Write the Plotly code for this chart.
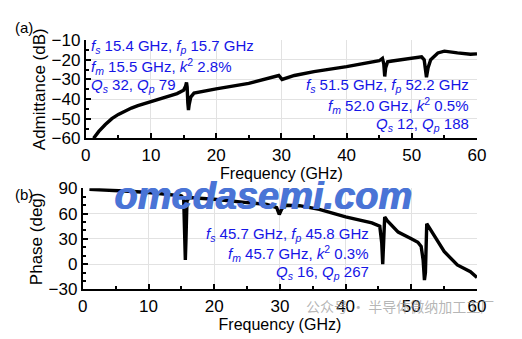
import plotly.graph_objects as go

# ---- data ----
adm_freq = [1.2, 1.5, 2, 3, 4, 5, 6, 7, 8, 10, 12, 14, 15, 15.3, 15.45, 15.55, 15.65, 15.75, 15.85,
            16.1, 16.6, 18, 20, 25, 29, 29.6, 30.1, 30.5, 32, 35, 40, 45, 45.5, 45.7, 45.85, 46.0,
            46.3, 47, 50, 51.5, 51.9, 52.1, 52.25, 52.5, 52.9, 54, 55, 57, 59, 60]
adm_db = [-60, -58.5, -56.5, -53, -50, -47.8, -46, -44.6, -43.4, -41.3, -39.5, -37.2, -35.5, -33.5,
          -31.5, -34, -42, -45.6, -43, -39, -37, -36, -34.8, -32, -28.8, -28, -30, -29.5, -28, -26,
          -23.5, -20.5, -19.3, -22, -28.5, -24, -21, -20.6, -19.3, -18.5, -20, -27, -28.9, -24, -20,
          -16.5, -15.6, -16.5, -17.2, -17]

ph_freq = [1, 3, 7, 10, 13, 15, 15.35, 15.5, 15.6, 15.7, 15.85, 16.2, 20, 25, 28, 29.5, 29.9, 30.3,
           31, 33, 36, 40, 42, 44, 45.2, 45.5, 45.65, 45.8, 45.95, 46.3, 48, 50, 51, 51.5, 51.8,
           52.0, 52.15, 52.35, 53, 55, 57, 59, 60]
ph_deg = [89, 88.5, 86.5, 85, 83, 81, 78, 30, 5, 30, 75, 79, 77, 73, 71, 67, 59, 66, 70, 69.4, 65,
          56, 53, 49, 45, 25, 0, 30, 56, 52, 38, 30, 26, 21, 5, -19, -10, 48, 40, 15, -1, -9, -16]

x_ticks = [0, 10, 20, 30, 40, 50, 60]
adm_ticks = [-10, -20, -30, -40, -50, -60]
ph_ticks = [90, 60, 30, 0, -30]

FONT = "Arial, Liberation Sans, sans-serif"
BLUE = "#1515e6"
W, H = 522, 339

fig = go.Figure()
fig.add_trace(go.Scatter(x=adm_freq, y=adm_db, mode="lines", line=dict(color="black", width=3.4),
                         xaxis="x", yaxis="y", showlegend=False))
fig.add_trace(go.Scatter(x=ph_freq, y=ph_deg, mode="lines", line=dict(color="black", width=3.4),
                         xaxis="x2", yaxis="y2", showlegend=False))

def px(xp):
    return xp / W

def py(yp):
    return 1 - yp / H

common_x = dict(range=[0, 60], tickvals=x_ticks, showgrid=True, gridcolor="#e2e2e2", gridwidth=1,
                showline=True, linecolor="black", linewidth=2, ticks="inside", ticklen=5,
                tickwidth=1.5, tickcolor="black", zeroline=False,
                tickfont=dict(family=FONT, size=17, color="black"),
                minor=dict(dtick=5, ticks="inside", ticklen=3, tickcolor="black", showgrid=False),
                title=dict(text="Frequency (GHz)", font=dict(family=FONT, size=16, color="black"),
                           standoff=2))
common_y = dict(showgrid=True, gridcolor="#e2e2e2", gridwidth=1, showline=True, linecolor="black",
                linewidth=2, ticks="inside", ticklen=5, tickwidth=1.5, tickcolor="black",
                zeroline=False, tickfont=dict(family=FONT, size=17, color="black"))

fig.update_layout(
    width=W, height=H, margin=dict(l=0, r=0, t=0, b=0),
    paper_bgcolor="white", plot_bgcolor="white",
    xaxis=dict(common_x, domain=[px(83), px(485)], anchor="y"),
    yaxis=dict(common_y, domain=[py(137), py(33)], anchor="x", range=[-60, -10], tickvals=adm_ticks,
               minor=dict(dtick=5, ticks="inside", ticklen=3, tickcolor="black", showgrid=False),
               title=dict(text="Admittance (dB)", font=dict(family=FONT, size=17, color="black"),
                          standoff=2)),
    xaxis2=dict(common_x, domain=[px(80), px(485)], anchor="y2"),
    yaxis2=dict(common_y, domain=[py(297), py(190)], anchor="x2", range=[-30, 90], tickvals=ph_ticks,
                minor=dict(dtick=10, ticks="inside", ticklen=3, tickcolor="black", showgrid=False),
                title=dict(text="Phase (deg)", font=dict(family=FONT, size=17, color="black"),
                           standoff=2)),
)

def ann(text, x, y, xanchor="left", size=15, color=BLUE):
    fig.add_annotation(text=text, x=px(x), y=py(y), xref="paper", yref="paper", xanchor=xanchor,
                       yanchor="middle", showarrow=False,
                       font=dict(family=FONT, size=size, color=color))

ann("(a)", 8, 20, size=15, color="black")
ann("(b)", 8, 196, size=15, color="black")

ann("<i>f<sub>s</sub></i> 15.4 GHz, <i>f<sub>p</sub></i> 15.7 GHz", 86, 40)
ann("<i>f<sub>m</sub></i> 15.5 GHz, <i>k</i><sup>2</sup> 2.8%", 86, 61)
ann("<i>Q<sub>s</sub></i> 32, <i>Q<sub>p</sub></i> 79", 86, 81)

ann("<i>f<sub>s</sub></i> 51.5 GHz, <i>f<sub>p</sub></i> 52.2 GHz", 479, 81, xanchor="right")
ann("<i>f<sub>m</sub></i> 52.0 GHz, <i>k</i><sup>2</sup> 0.5%", 479, 102, xanchor="right")
ann("<i>Q<sub>s</sub></i> 12, <i>Q<sub>p</sub></i> 188", 479, 122, xanchor="right")

ann("<i>f<sub>s</sub></i> 45.7 GHz, <i>f<sub>p</sub></i> 45.8 GHz", 376, 239, xanchor="right")
ann("<i>f<sub>m</sub></i> 45.7 GHz, <i>k</i><sup>2</sup> 0.3%", 376, 259, xanchor="right")
ann("<i>Q<sub>s</sub></i> 16, <i>Q<sub>p</sub></i> 267", 376, 279, xanchor="right")

# watermarks (drawn twice, 1px apart, to mimic the heavy face)
for dx in (0, 1.2):
    fig.add_annotation(text="<b><i>omedasemi.com</i></b>", x=px(265 + dx), y=py(198), xref="paper",
                       yref="paper", xanchor="center", yanchor="middle", showarrow=False,
                       font=dict(family=FONT, size=38, color="#4a74d6"))
fig.add_annotation(text="公众号 · 半导体微纳加工工厂", x=px(505), y=py(315), xref="paper", yref="paper",
                   xanchor="right", yanchor="middle", showarrow=False,
                   font=dict(family="Noto Sans CJK SC", size=14, color="rgba(150,150,150,0.7)"))

fig.write_html("out.html")
